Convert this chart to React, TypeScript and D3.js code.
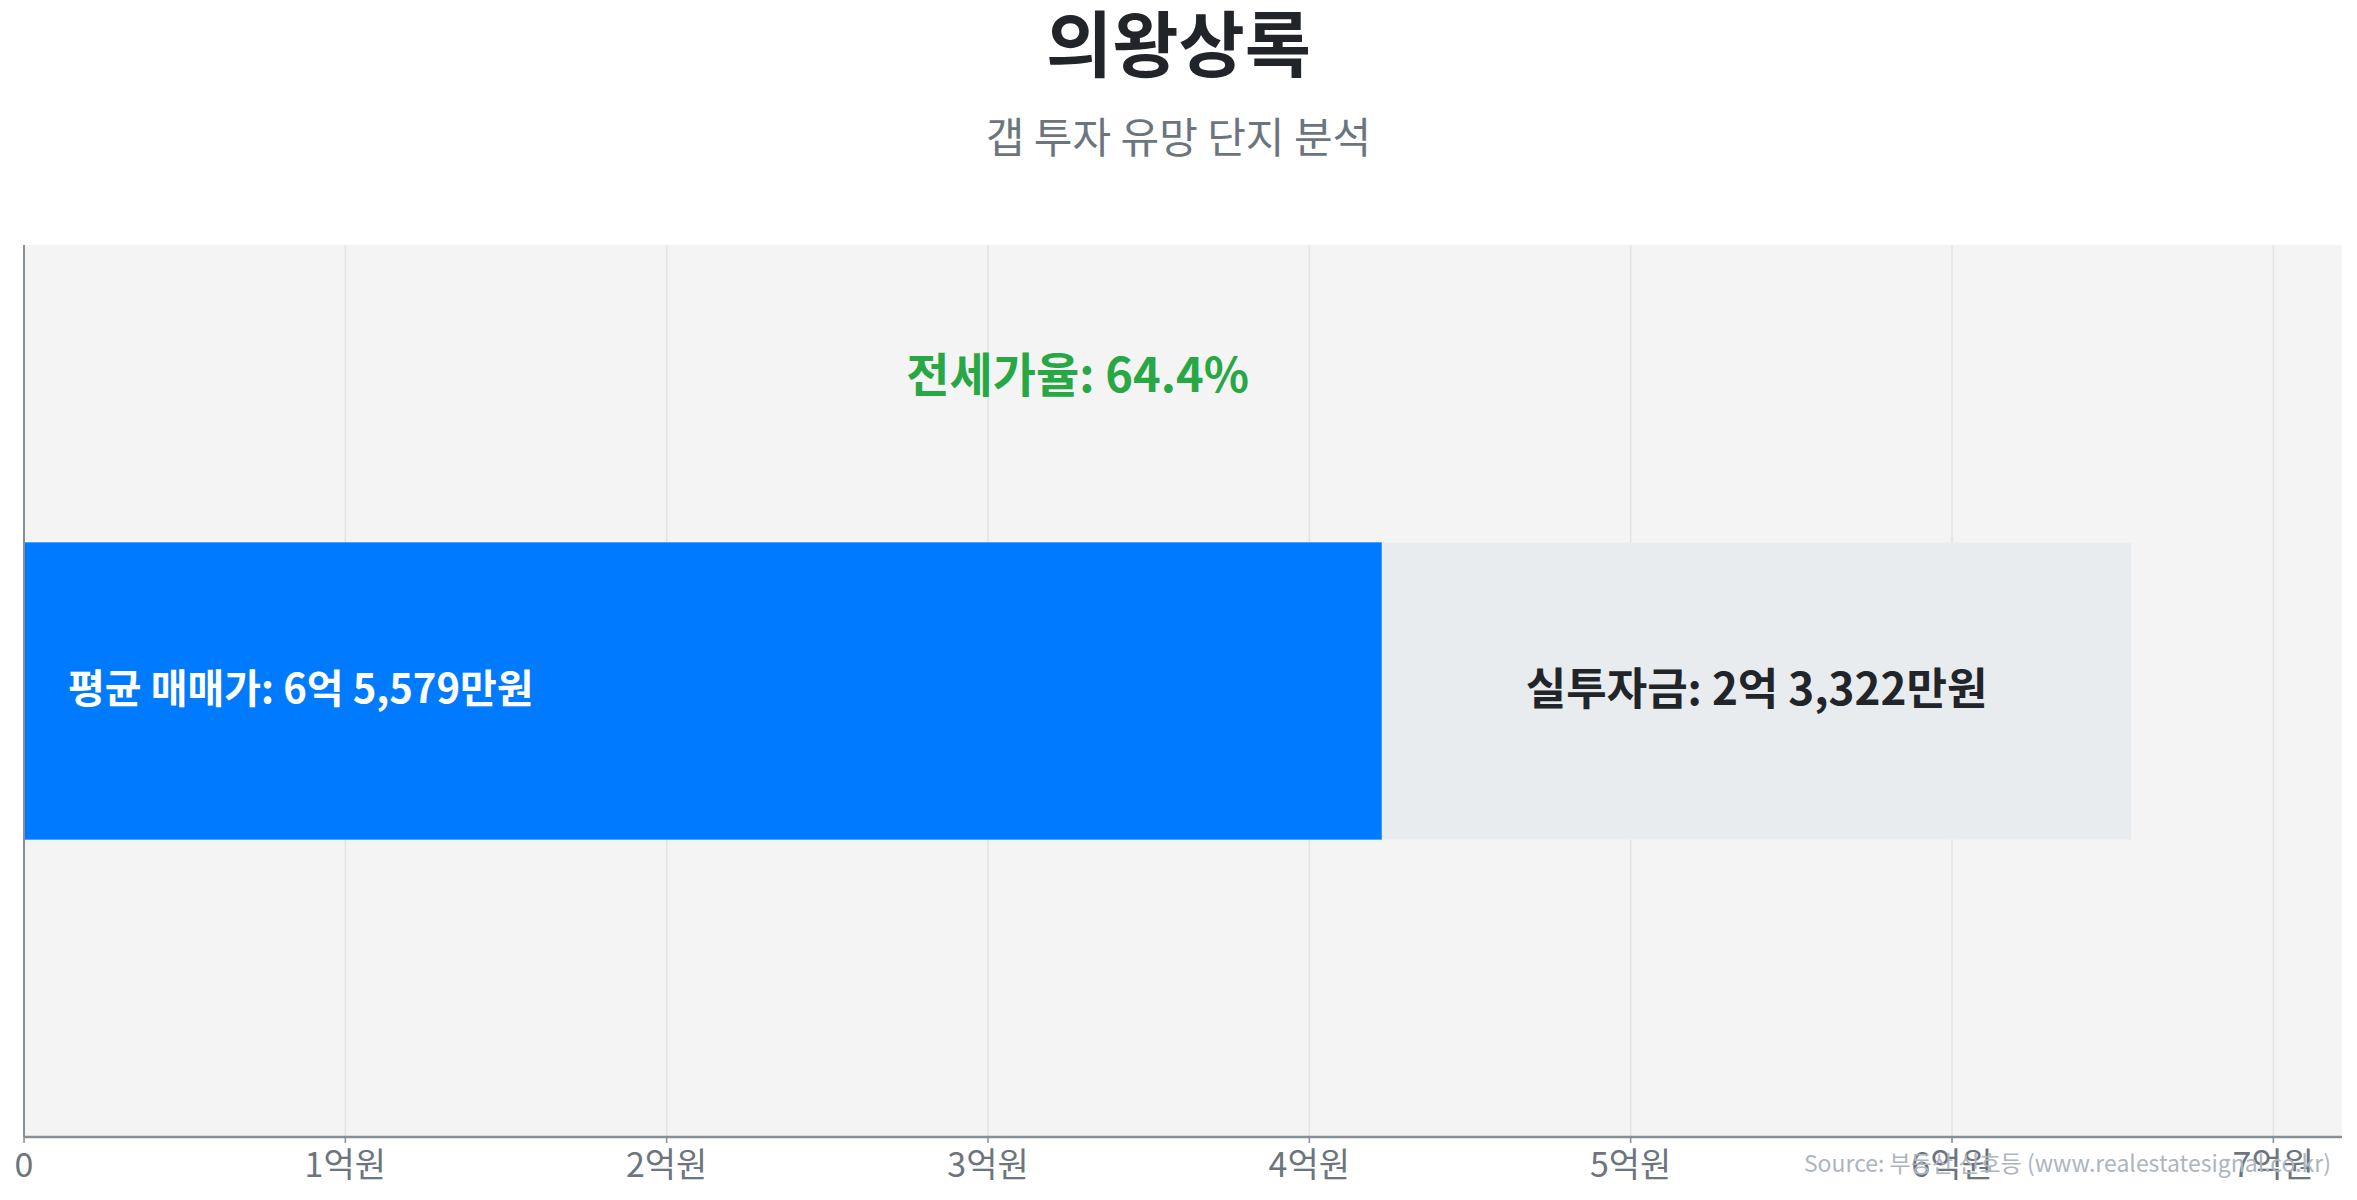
import React, { useEffect, useRef } from "react";
import * as d3 from "d3";

// 단지명 / 가격 데이터 (단위: 만원)
const categories = ["의왕상록"];
const salePrices = [65579]; // 평균 매매가
const jeonsePrices = [42257]; // 평균 전세가
const investments = [23322]; // 실투자금
const jeonseRatios = [64.4]; // 전세가율 (%)

// x축 눈금 (만원)
const tickValues = [0, 10000, 20000, 30000, 40000, 50000, 60000, 70000];

const FONT = "'Noto Sans CJK KR', 'Noto Sans', sans-serif";

const formatWon = (v: number) => {
  const eok = Math.floor(v / 10000);
  const man = v % 10000;
  return `${eok}억 ${d3.format(",")(man)}만원`;
};

const App: React.FC = () => {
  const svgRef = useRef<SVGSVGElement>(null);
  const width = 2357;
  const height = 1200;

  useEffect(() => {
    if (!svgRef.current) return;
    document.body.style.margin = "0";

    const svg = d3.select(svgRef.current);
    svg.selectAll("*").remove();

    const margin = { top: 245, right: 15, bottom: 63, left: 24 };
    const chartWidth = width - margin.left - margin.right;
    const chartHeight = height - margin.top - margin.bottom;

    // 제목
    svg
      .append("text")
      .attr("x", width / 2)
      .attr("y", 39)
      .attr("text-anchor", "middle")
      .attr("dominant-baseline", "central")
      .style("font-family", FONT)
      .style("font-size", "72px")
      .style("font-weight", "700")
      .style("fill", "#212529")
      .text(categories[0]);

    svg
      .append("text")
      .attr("x", width / 2)
      .attr("y", 134)
      .attr("text-anchor", "middle")
      .attr("dominant-baseline", "central")
      .style("font-family", FONT)
      .style("font-size", "42px")
      .style("fill", "#6c757d")
      .text("갭 투자 유망 단지 분석");

    const g = svg
      .append("g")
      .attr("transform", `translate(${margin.left}, ${margin.top})`);

    const xScale = d3
      .scaleLinear()
      .domain([0, (d3.max(salePrices) || 0) * 1.1])
      .range([0, chartWidth]);

    const yScale = d3
      .scaleBand()
      .domain(categories)
      .range([0, chartHeight])
      .padding(0.5);

    // 배경
    g.append("rect")
      .attr("width", chartWidth)
      .attr("height", chartHeight)
      .attr("fill", "#f4f4f4");

    // 그리드
    g.selectAll(".grid")
      .data(tickValues.slice(1))
      .enter()
      .append("line")
      .attr("x1", (d) => xScale(d))
      .attr("x2", (d) => xScale(d))
      .attr("y1", 0)
      .attr("y2", chartHeight)
      .attr("stroke", "#e3e3e3")
      .attr("stroke-width", 1.5);

    categories.forEach((c, i) => {
      const y = yScale(c) || 0;
      const bh = yScale.bandwidth();

      // 전세가 부분
      g.append("rect")
        .attr("x", xScale(0))
        .attr("y", y)
        .attr("width", xScale(jeonsePrices[i]) - xScale(0))
        .attr("height", bh)
        .attr("fill", "#007bff");

      // 실투자금 부분
      g.append("rect")
        .attr("x", xScale(jeonsePrices[i]))
        .attr("y", y)
        .attr("width", xScale(jeonsePrices[i] + investments[i]) - xScale(jeonsePrices[i]))
        .attr("height", bh)
        .attr("fill", "#e9ecef");

      g.append("text")
        .attr("x", xScale(0) + 44)
        .attr("y", y + bh / 2 - 5)
        .attr("dominant-baseline", "central")
        .style("font-family", FONT)
        .style("font-size", "40px")
        .style("font-weight", "700")
        .style("fill", "#ffffff")
        .text(`평균 매매가: ${formatWon(salePrices[i])}`);

      g.append("text")
        .attr("x", (xScale(jeonsePrices[i]) + xScale(jeonsePrices[i] + investments[i])) / 2)
        .attr("y", y + bh / 2 - 5)
        .attr("text-anchor", "middle")
        .attr("dominant-baseline", "central")
        .style("font-family", FONT)
        .style("font-size", "44px")
        .style("font-weight", "700")
        .style("fill", "#212529")
        .text(`실투자금: ${formatWon(investments[i])}`);

      g.append("text")
        .attr("x", xScale(salePrices[i] / 2))
        .attr("y", y - 171)
        .attr("text-anchor", "middle")
        .attr("dominant-baseline", "central")
        .style("font-family", FONT)
        .style("font-size", "47px")
        .style("font-weight", "700")
        .style("fill", "#28a745")
        .text(`전세가율: ${jeonseRatios[i]}%`);
    });

    // 축
    g.append("line")
      .attr("x1", 0)
      .attr("x2", 0)
      .attr("y1", 0)
      .attr("y2", chartHeight)
      .attr("stroke", "#868e96")
      .attr("stroke-width", 2);

    g.append("line")
      .attr("x1", 0)
      .attr("x2", chartWidth)
      .attr("y1", chartHeight)
      .attr("y2", chartHeight)
      .attr("stroke", "#868e96")
      .attr("stroke-width", 2.5);

    // 출처 (눈금 라벨 아래에 깔림)
    svg
      .append("text")
      .attr("x", 2331)
      .attr("y", 1162)
      .attr("text-anchor", "end")
      .attr("dominant-baseline", "central")
      .style("font-family", FONT)
      .style("font-size", "23px")
      .style("fill", "#adb5bd")
      .text("Source: 부동산 신호등 (www.realestatesignal.co.kr)");

    const ticks = g
      .append("g")
      .attr("transform", `translate(0, ${chartHeight})`)
      .selectAll(".tick")
      .data(tickValues)
      .enter()
      .append("g")
      .attr("transform", (d) => `translate(${xScale(d)}, 0)`);

    ticks
      .append("line")
      .attr("y1", 0)
      .attr("y2", 6)
      .attr("stroke", "#868e96")
      .attr("stroke-width", 1.5);

    ticks
      .append("text")
      .attr("y", 25)
      .attr("text-anchor", "middle")
      .attr("dominant-baseline", "central")
      .style("font-family", FONT)
      .style("font-size", "34px")
      .style("fill", "#6c757d")
      .text((d) => (d === 0 ? "0" : `${d / 10000}억원`));
  }, []);

  return (
    <div style={{ position: "absolute", left: 0, top: 0 }}>
      <svg ref={svgRef} width={width} height={height} style={{ display: "block" }} />
    </div>
  );
};

export default App;
